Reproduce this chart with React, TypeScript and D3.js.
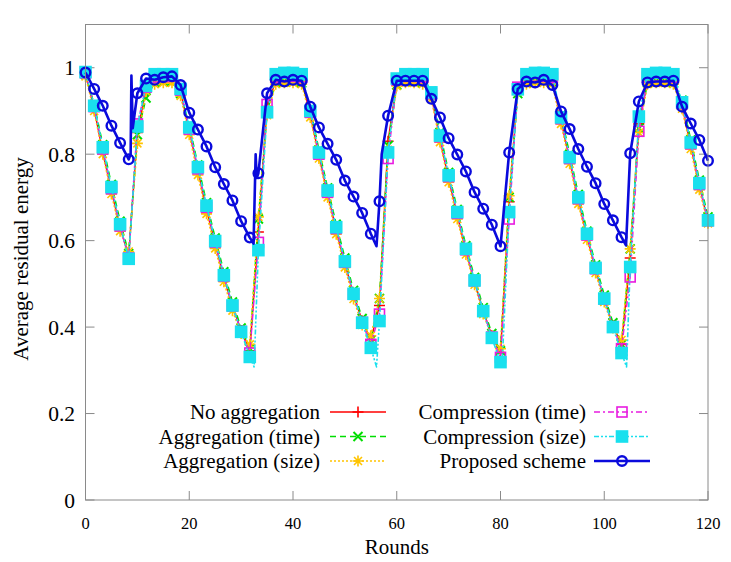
import React, { useRef, useEffect } from 'react';
import * as d3 from 'd3';

// sample rounds (one sample every 5/3 round)
const rounds = [
  0, 1.67, 3.33, 5, 6.67, 8.33, 10, 11.67, 13.33, 15, 16.67, 18.33, 20, 21.67, 23.33, 25, 26.67, 28.33, 30,
  31.67, 33.33, 35, 36.67, 38.33, 40, 41.67, 43.33, 45, 46.67, 48.33, 50, 51.67, 53.33, 55, 56.67, 58.33, 60,
  61.67, 63.33, 65, 66.67, 68.33, 70, 71.67, 73.33, 75, 76.67, 78.33, 80, 81.67, 83.33, 85, 86.67, 88.33, 90,
  91.67, 93.33, 95, 96.67, 98.33, 100, 101.67, 103.33, 105, 106.67, 108.33, 110, 111.67, 113.33, 115, 116.67,
  118.33, 120
];

const noAggregation = [
  0.985, 0.905, 0.805, 0.715, 0.630, 0.565, 0.850, 0.950, 0.970, 0.972, 0.972, 0.945, 0.855, 0.762, 0.672, 0.592,
  0.515, 0.448, 0.392, 0.345, 0.620, 0.910, 0.970, 0.972, 0.972, 0.970, 0.892, 0.796, 0.708, 0.624, 0.547, 0.475,
  0.414, 0.370, 0.450, 0.830, 0.965, 0.972, 0.972, 0.970, 0.935, 0.835, 0.743, 0.659, 0.576, 0.505, 0.437, 0.380,
  0.340, 0.690, 0.950, 0.970, 0.972, 0.972, 0.970, 0.878, 0.786, 0.693, 0.610, 0.533, 0.465, 0.403, 0.360, 0.560,
  0.870, 0.970, 0.972, 0.972, 0.970, 0.912, 0.820, 0.726, 0.645
];

const aggregationTime = [
  0.985, 0.915, 0.822, 0.730, 0.645, 0.570, 0.845, 0.930, 0.965, 0.968, 0.968, 0.940, 0.866, 0.775, 0.688, 0.606,
  0.528, 0.458, 0.398, 0.350, 0.650, 0.900, 0.965, 0.968, 0.968, 0.965, 0.905, 0.810, 0.722, 0.638, 0.560, 0.485,
  0.420, 0.370, 0.466, 0.820, 0.960, 0.968, 0.968, 0.965, 0.945, 0.850, 0.758, 0.672, 0.588, 0.515, 0.445, 0.385,
  0.345, 0.700, 0.940, 0.965, 0.968, 0.968, 0.965, 0.890, 0.800, 0.707, 0.622, 0.544, 0.474, 0.410, 0.360, 0.581,
  0.860, 0.965, 0.968, 0.968, 0.965, 0.925, 0.833, 0.740, 0.655
];

const aggregationSize = [
  0.980, 0.900, 0.800, 0.708, 0.622, 0.575, 0.825, 0.945, 0.962, 0.965, 0.965, 0.935, 0.845, 0.752, 0.662, 0.582,
  0.505, 0.438, 0.385, 0.360, 0.655, 0.890, 0.962, 0.965, 0.965, 0.962, 0.885, 0.790, 0.700, 0.615, 0.538, 0.465,
  0.405, 0.380, 0.466, 0.810, 0.958, 0.965, 0.965, 0.962, 0.928, 0.828, 0.735, 0.650, 0.568, 0.498, 0.430, 0.378,
  0.350, 0.704, 0.945, 0.962, 0.965, 0.965, 0.962, 0.870, 0.778, 0.685, 0.602, 0.525, 0.458, 0.398, 0.370, 0.581,
  0.850, 0.962, 0.965, 0.965, 0.962, 0.905, 0.812, 0.718, 0.640
];

const compressionTime = [
  0.988, 0.910, 0.812, 0.720, 0.634, 0.560, 0.870, 0.955, 0.978, 0.980, 0.980, 0.948, 0.858, 0.766, 0.677, 0.596,
  0.518, 0.449, 0.390, 0.340, 0.596, 0.915, 0.978, 0.980, 0.980, 0.978, 0.897, 0.800, 0.712, 0.628, 0.550, 0.476,
  0.411, 0.360, 0.430, 0.790, 0.972, 0.980, 0.980, 0.978, 0.940, 0.840, 0.748, 0.663, 0.579, 0.507, 0.437, 0.377,
  0.330, 0.650, 0.955, 0.978, 0.980, 0.980, 0.978, 0.882, 0.790, 0.697, 0.613, 0.535, 0.465, 0.401, 0.350, 0.516,
  0.853, 0.978, 0.980, 0.980, 0.978, 0.917, 0.824, 0.730, 0.646
];

const compressionSize = [
  0.990, 0.912, 0.816, 0.724, 0.638, 0.558, 0.864, 0.958, 0.985, 0.985, 0.985, 0.951, 0.862, 0.770, 0.681, 0.599,
  0.520, 0.450, 0.389, 0.331, 0.578, 0.897, 0.985, 0.988, 0.988, 0.985, 0.900, 0.804, 0.716, 0.631, 0.552, 0.477,
  0.410, 0.352, 0.414, 0.804, 0.975, 0.985, 0.985, 0.985, 0.943, 0.843, 0.751, 0.666, 0.581, 0.508, 0.437, 0.375,
  0.319, 0.666, 0.950, 0.985, 0.988, 0.988, 0.985, 0.885, 0.793, 0.700, 0.616, 0.537, 0.466, 0.400, 0.340, 0.539,
  0.887, 0.985, 0.988, 0.988, 0.985, 0.920, 0.827, 0.733, 0.647
];

const proposedScheme = [
  0.989, 0.951, 0.912, 0.866, 0.826, 0.788, 0.941, 0.975, 0.972, 0.978, 0.980, 0.960, 0.896, 0.857, 0.818, 0.770,
  0.731, 0.693, 0.645, 0.607, 0.756, 0.941, 0.972, 0.968, 0.972, 0.970, 0.910, 0.862, 0.824, 0.787, 0.739, 0.702,
  0.664, 0.616, 0.691, 0.889, 0.970, 0.970, 0.970, 0.970, 0.928, 0.885, 0.837, 0.799, 0.760, 0.712, 0.674, 0.637,
  0.587, 0.804, 0.951, 0.968, 0.966, 0.972, 0.960, 0.899, 0.858, 0.812, 0.771, 0.733, 0.685, 0.647, 0.608, 0.802,
  0.922, 0.966, 0.968, 0.968, 0.970, 0.910, 0.871, 0.833, 0.785
];

// line-only vertices between samples (dips and spikes without markers)
const compressionSizeExtraRounds = [32.5, 56.1, 80.3, 104.3];
const compressionSizeExtraValues = [0.308, 0.308, 0.312, 0.308];
const proposedExtraRounds = [8.7, 8.85, 9.1, 32.4, 32.8, 33.0, 56.1, 57.1, 104.2];
const proposedExtraValues = [0.80, 0.982, 0.86, 0.593, 0.80, 0.745, 0.587, 0.80, 0.589];

const xTicks = [0, 20, 40, 60, 80, 100, 120];
const yTicks = [0, 0.2, 0.4, 0.6, 0.8, 1];

const seriesNames = [
  'No aggregation', 'Aggregation (time)', 'Aggregation (size)',
  'Compression (time)', 'Compression (size)', 'Proposed scheme'
];

type Marker = 'plus' | 'cross' | 'star' | 'square' | 'fsquare' | 'circle';

const series = [
  { name: seriesNames[0], values: noAggregation, extraR: [], extraV: [], color: '#ff0000', dash: null, width: 1.5, marker: 'plus' as Marker },
  { name: seriesNames[1], values: aggregationTime, extraR: [], extraV: [], color: '#00dd00', dash: '6,4', width: 1.6, marker: 'cross' as Marker },
  { name: seriesNames[2], values: aggregationSize, extraR: [], extraV: [], color: '#ffc400', dash: '2,2', width: 1.6, marker: 'star' as Marker },
  { name: seriesNames[3], values: compressionTime, extraR: [], extraV: [], color: '#e81ce0', dash: '6,3,2,3', width: 1.5, marker: 'square' as Marker },
  { name: seriesNames[4], values: compressionSize, extraR: compressionSizeExtraRounds, extraV: compressionSizeExtraValues, color: '#19e0ee', dash: '5,2,2,2,2,2', width: 1.6, marker: 'fsquare' as Marker },
  { name: seriesNames[5], values: proposedScheme, extraR: proposedExtraRounds, extraV: proposedExtraValues, color: '#0a0adc', dash: null, width: 2.6, marker: 'circle' as Marker },
];

const FONT = 'Liberation Serif, Times New Roman, serif';

function drawMarker(g: any, kind: Marker, cx: number, cy: number, color: string) {
  if (kind === 'circle') {
    g.append('circle').attr('cx', cx).attr('cy', cy).attr('r', 4.8)
      .attr('fill', 'none').attr('stroke', color).attr('stroke-width', 2.4);
    return;
  }
  if (kind === 'fsquare') {
    g.append('rect').attr('x', cx - 6.3).attr('y', cy - 6.3).attr('width', 12.6).attr('height', 12.6)
      .attr('fill', color);
    return;
  }
  if (kind === 'square') {
    g.append('rect').attr('x', cx - 5).attr('y', cy - 5).attr('width', 10).attr('height', 10)
      .attr('fill', 'none').attr('stroke', color).attr('stroke-width', 1.6);
    return;
  }
  let d = '';
  if (kind === 'plus') d = `M${cx - 5.5},${cy}H${cx + 5.5}M${cx},${cy - 5.5}V${cy + 5.5}`;
  if (kind === 'cross') d = `M${cx - 4.5},${cy - 4.5}L${cx + 4.5},${cy + 4.5}M${cx - 4.5},${cy + 4.5}L${cx + 4.5},${cy - 4.5}`;
  if (kind === 'star') d = `M${cx - 5.5},${cy}H${cx + 5.5}M${cx},${cy - 5.5}V${cy + 5.5}` +
    `M${cx - 4},${cy - 4}L${cx + 4},${cy + 4}M${cx - 4},${cy + 4}L${cx + 4},${cy - 4}`;
  g.append('path').attr('d', d).attr('fill', 'none').attr('stroke', color).attr('stroke-width', kind === 'cross' ? 2 : 1.6);
}

const App: React.FC = () => {
  const svgRef = useRef<SVGSVGElement | null>(null);

  useEffect(() => {
    const svg = d3.select(svgRef.current);
    svg.selectAll('*').remove();
    const width = 731;
    const height = 562;
    const margin = { top: 24.5, right: 23, bottom: 62, left: 85.5 };

    svg.attr('width', width).attr('height', height).style('background', '#fff')
      .attr('font-family', FONT);

    const x = d3.scaleLinear().domain([0, 120]).range([margin.left, width - margin.right]);
    const y = d3.scaleLinear().domain([0, 1.1]).range([height - margin.bottom, margin.top]);

    const grey = '#8a8a8a';
    const tickLen = 9;

    // ticks on all four sides, pointing inward
    const axes = svg.append('g').attr('stroke', grey).attr('stroke-width', 1);
    xTicks.forEach(t => {
      axes.append('line').attr('x1', x(t)).attr('x2', x(t)).attr('y1', y(0)).attr('y2', y(0) - tickLen);
      axes.append('line').attr('x1', x(t)).attr('x2', x(t)).attr('y1', y(1.1)).attr('y2', y(1.1) + tickLen);
    });
    yTicks.forEach(t => {
      axes.append('line').attr('x1', x(0)).attr('x2', x(0) + tickLen).attr('y1', y(t)).attr('y2', y(t));
      axes.append('line').attr('x1', x(120)).attr('x2', x(120) - tickLen).attr('y1', y(t)).attr('y2', y(t));
    });

    svg.append('g').selectAll('text').data(xTicks).enter().append('text')
      .attr('x', d => x(d)).attr('y', 529)
      .attr('text-anchor', 'middle').attr('font-size', 16.5)
      .text(d => String(d));

    svg.append('g').selectAll('text').data(yTicks).enter().append('text')
      .attr('x', 75).attr('y', d => y(d) + 7.5)
      .attr('text-anchor', 'end').attr('font-size', 21.5)
      .text(d => String(d));

    // series
    const line = d3.line<{ r: number; v: number }>().x(d => x(d.r)).y(d => y(d.v));
    const plot = svg.append('g');
    series.forEach(s => {
      const pts = rounds.map((r, i) => ({ r, v: s.values[i] }))
        .concat(s.extraR.map((r: number, i: number) => ({ r, v: s.extraV[i] })))
        .sort((a, b) => a.r - b.r);
      plot.append('path').attr('d', line(pts) as string)
        .attr('fill', 'none').attr('stroke', s.color).attr('stroke-width', s.width)
        .attr('stroke-dasharray', s.dash).attr('stroke-linejoin', 'round');
      const mg = plot.append('g');
      rounds.forEach((r, i) => drawMarker(mg, s.marker, x(r), y(s.values[i]), s.color));
    });

    // border
    svg.append('rect').attr('x', x(0)).attr('y', y(1.1)).attr('width', x(120) - x(0)).attr('height', y(0) - y(1.1))
      .attr('fill', 'none').attr('stroke', grey).attr('stroke-width', 1);

    // legend
    const legend = svg.append('g');
    series.forEach((s, i) => {
      const col = Math.floor(i / 3);
      const row = i % 3;
      const textRight = col === 0 ? 320 : 586;
      const x0 = col === 0 ? 330 : 594;
      const x1 = x0 + 56;
      const ly = 412 + row * 24.5;
      legend.append('text').attr('x', textRight).attr('y', ly + 7)
        .attr('text-anchor', 'end').attr('font-size', 21)
        .text(s.name);
      legend.append('line').attr('x1', x0).attr('x2', x1).attr('y1', ly).attr('y2', ly)
        .attr('stroke', s.color).attr('stroke-width', s.width).attr('stroke-dasharray', s.dash);
      drawMarker(legend, s.marker, (x0 + x1) / 2, ly, s.color);
    });

    svg.append('text').attr('x', (x(0) + x(120)) / 2).attr('y', 554)
      .attr('text-anchor', 'middle').attr('font-size', 21)
      .text('Rounds');

    svg.append('text').attr('transform', `translate(28,259) rotate(-90)`)
      .attr('text-anchor', 'middle').attr('font-size', 21)
      .text('Average residual energy');
  }, []);

  return <svg ref={svgRef} style={{ position: 'absolute', left: 0, top: 0 }}></svg>;
};

export default App;
